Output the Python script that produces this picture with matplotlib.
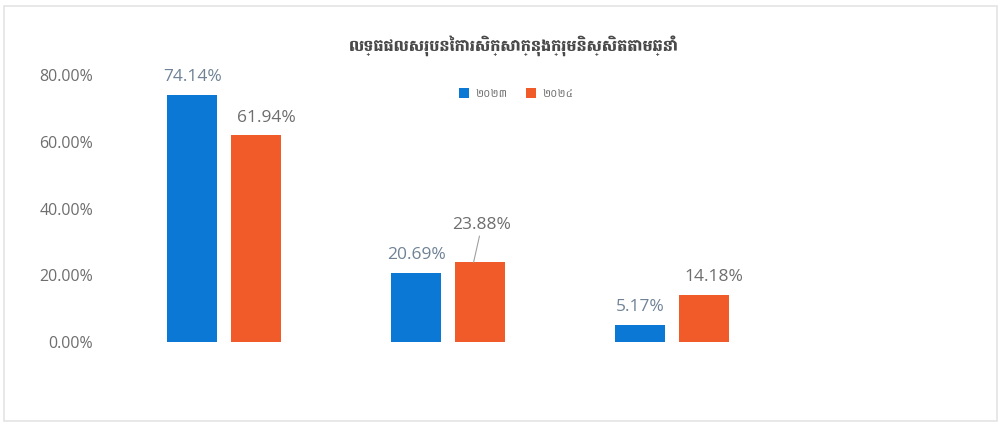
import os
import matplotlib
matplotlib.use("Agg")
import numpy as np
import matplotlib.pyplot as plt
from matplotlib.font_manager import FontProperties
from matplotlib.patches import Rectangle

# chart values
series_names = ["២០២៣", "២០២៤"]
values_a = [74.14, 20.69, 5.17]
values_b = [61.94, 23.88, 14.18]
yticks = [0, 20, 40, 60, 80]
title = "លទ្ធផលសរុបនៃការសិក្សាក្នុងក្រុមនិស្សិតតាមឆ្នាំ"

BLUE = "#0B78D6"
ORANGE = "#F15A29"
GRAY = "#6E6E6E"

GF = "/usr/share/fonts/truetype/google-fonts/"


def khmer_font(fname, size, weight="normal"):
    # use a Khmer font file when present, otherwise plain DejaVu
    path = GF + fname
    if os.path.exists(path):
        return FontProperties(fname=path, size=size)
    return FontProperties(family="DejaVu Sans", size=size, weight=weight)


title_font = khmer_font("Battambang-Black.ttf", 11.5, "bold")
legend_font = khmer_font("Battambang-Regular.ttf", 8)

plt.rcParams["font.family"] = ["Open Sans", "DejaVu Sans"]

fig = plt.figure(figsize=(10.03, 4.25), dpi=100)
ax = fig.add_axes([0.112, 0.195, 0.873, 0.6282])

x = np.arange(len(values_a))
w = 0.223
off = 0.143
bars_a = ax.bar(x - off, values_a, w, color=BLUE, label=series_names[0])
bars_b = ax.bar(x + off, values_b, w, color=ORANGE, label=series_names[1])

ax.set_xlim(-0.5, 3.41)
ax.set_ylim(0, 80)
ax.set_yticks(yticks)
ax.set_yticklabels([f"{v:.2f}%" for v in yticks], fontsize=11.5, color=GRAY)
ax.set_xticks([])
ax.tick_params(axis="y", length=0, pad=14)
for s in ax.spines.values():
    s.set_visible(False)

# data labels
for b, v in zip(bars_a, values_a):
    ax.annotate(f"{v:.2f}%", (b.get_x() + b.get_width() / 2, v),
                xytext=(0, 7), textcoords="offset points",
                ha="center", va="bottom", fontsize=12.5, color="#6F8296")
for i, (b, v) in enumerate(zip(bars_b, values_b)):
    cx = b.get_x() + b.get_width() / 2
    if i == 1:
        ax.annotate(f"{v:.2f}%", (cx - 0.03, v), xytext=(6, 21),
                    textcoords="offset points", ha="center", va="bottom",
                    fontsize=12.5, color=GRAY,
                    arrowprops=dict(arrowstyle="-", color="#A0A0A0", lw=0.8,
                                    shrinkA=0, shrinkB=0))
    else:
        ax.annotate(f"{v:.2f}%", (cx + 0.02, v), xytext=(4, 7),
                    textcoords="offset points", ha="center", va="bottom",
                    fontsize=12.5, color=GRAY)

fig.text(0.512, 0.893, title, ha="center", va="center",
         color="#4A4A4A", fontproperties=title_font)

leg = fig.legend(loc="center", bbox_to_anchor=(0.515, 0.78), ncol=2,
                 frameon=False, handlelength=0.9, handleheight=0.9,
                 columnspacing=1.6, handletextpad=0.6, prop=legend_font)
for t in leg.get_texts():
    t.set_color(GRAY)

fig.add_artist(Rectangle((0.004, 0.01), 0.99, 0.977, transform=fig.transFigure,
                         fill=False, edgecolor="#E4E4E4", lw=1.2))

fig.savefig("out.png", dpi=100)
